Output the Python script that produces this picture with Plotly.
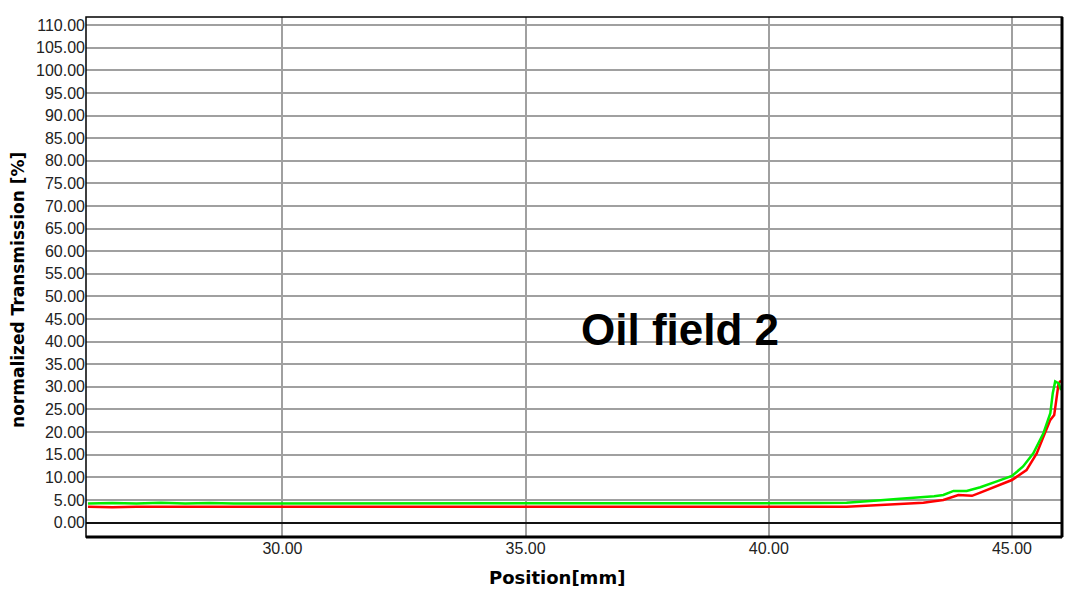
import plotly.graph_objects as go

# Position [mm]
green_x = [26.0, 26.5, 27.0, 27.5, 28.0, 28.5, 29.0, 29.5, 30.0, 30.5, 31.0, 31.5,
           32.0, 32.5, 33.0, 33.5, 34.0, 34.5, 35.0, 35.5, 36.0, 36.5, 37.0, 37.5,
           38.0, 38.5, 39.0, 39.5, 40.0, 40.5, 41.0, 41.6, 42.0, 42.3, 42.63, 42.9,
           43.18, 43.4, 43.59, 43.8, 44.07, 44.35, 44.69, 45.0, 45.23, 45.44, 45.65,
           45.79, 45.84, 45.89, 45.96, 46.01]
green_y = [4.2, 4.3, 4.2, 4.4, 4.2, 4.3, 4.2, 4.2, 4.3, 4.2, 4.2, 4.3,
           4.2, 4.2, 4.3, 4.2, 4.2, 4.3, 4.2, 4.3, 4.3, 4.2, 4.3, 4.2,
           4.3, 4.2, 4.2, 4.3, 4.2, 4.2, 4.3, 4.4, 4.6, 4.9, 5.2, 5.4,
           5.6, 5.8, 6.1, 7.0, 7.0, 7.8, 9.1, 10.3, 12.4, 15.3, 19.8,
           24.2, 28.6, 31.2, 30.8, 29.3]

red_x = [26.0, 26.5, 27.0, 27.5, 28.0, 28.5, 29.0, 29.5, 30.0, 30.5, 31.0, 31.5,
         32.0, 32.5, 33.0, 33.5, 34.0, 34.5, 35.0, 35.5, 36.0, 36.5, 37.0, 37.5,
         38.0, 38.5, 39.0, 39.5, 40.0, 40.5, 41.0, 41.6, 42.0, 42.3, 42.63, 42.9,
         43.18, 43.4, 43.59, 43.9, 44.18, 44.35, 44.69, 45.0, 45.3, 45.51, 45.65,
         45.79, 45.87, 45.91, 45.96, 46.01]
red_y = [3.5, 3.4, 3.5, 3.5, 3.4, 3.5, 3.5, 3.4, 3.5, 3.5, 3.5, 3.4,
         3.5, 3.5, 3.4, 3.5, 3.5, 3.5, 3.4, 3.5, 3.5, 3.4, 3.5, 3.5,
         3.5, 3.4, 3.5, 3.5, 3.5, 3.4, 3.5, 3.5, 3.7, 3.9, 4.1, 4.2,
         4.4, 4.7, 5.0, 6.1, 5.9, 6.6, 8.1, 9.4, 11.6, 15.3, 19.0,
         22.7, 23.8, 27.1, 30.8, 31.4]

y_ticks = [0, 5, 10, 15, 20, 25, 30, 35, 40, 45, 50, 55, 60, 65, 70, 75, 80,
           85, 90, 95, 100, 105, 110]
x_ticks = [30, 35, 40, 45]

fig = go.Figure()
fig.add_trace(go.Scatter(x=red_x, y=red_y, mode="lines",
                         line=dict(color="#ff0000", width=2.5),
                         showlegend=False))
fig.add_trace(go.Scatter(x=green_x, y=green_y, mode="lines",
                         line=dict(color="#00ee00", width=2.5),
                         showlegend=False))

tick_font = dict(family="Liberation Sans, Arial", size=16, color="#222222")
fig.update_xaxes(range=[25.96, 46.03], tickvals=x_ticks,
                 ticktext=[f"{v:.2f}" for v in x_ticks],
                 showgrid=True, gridcolor="#a0a0a0", gridwidth=1.5,
                 zeroline=False, showline=False, ticks="", tickfont=tick_font,
                 automargin=False)
fig.update_yaxes(range=[-3.2, 111.8], tickvals=y_ticks,
                 ticktext=[f"{v:.2f}" for v in y_ticks],
                 showgrid=True, gridcolor="#a0a0a0", gridwidth=1.5,
                 zeroline=True, zerolinecolor="#111111", zerolinewidth=1.5,
                 showline=False, ticks="", tickfont=tick_font,
                 automargin=False)

title_font = dict(family="DejaVu Sans", size=18, color="black")
fig.add_annotation(x=0.4826, y=-0.0788, xref="paper", yref="paper",
                   text="<b>Position[mm]</b>", showarrow=False,
                   xanchor="center", yanchor="middle", font=title_font)
fig.add_annotation(x=-0.0697, y=0.475, xref="paper", yref="paper",
                   text="<b>normalized Transmission [%]</b>", showarrow=False,
                   textangle=-90, xanchor="center", yanchor="middle",
                   font=dict(family="DejaVu Sans", size=17, color="black"))

fig.add_annotation(x=38.18, y=42.6, xref="x", yref="y", text="<b>Oil field 2</b>",
                   showarrow=False,
                   font=dict(family="Liberation Sans, Arial", size=44, color="black"))

# frame
fig.add_shape(type="rect", xref="paper", yref="paper", x0=0, y0=0, x1=1, y1=1,
              line=dict(color="black", width=1.5), layer="above")
fig.add_shape(type="line", xref="paper", yref="paper", x0=1, y0=0, x1=1, y1=1,
              line=dict(color="black", width=3), layer="above")
fig.add_shape(type="line", xref="paper", yref="paper", x0=0, y0=0, x1=1, y1=0,
              line=dict(color="black", width=3), layer="above")

fig.update_layout(width=1072, height=586, paper_bgcolor="white", plot_bgcolor="white",
                  margin=dict(l=78, r=18, t=9, b=57))
fig.write_html("out.html")
